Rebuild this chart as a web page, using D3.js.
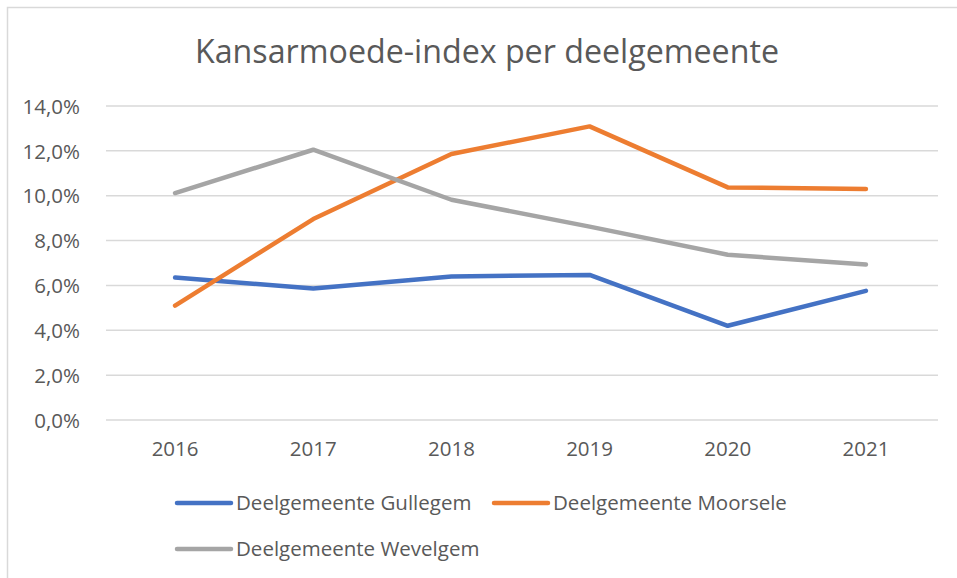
<!DOCTYPE html>
<html>
<head>
<meta charset="utf-8">
<script src="https://cdn.jsdelivr.net/npm/d3@7"></script>
<style>
  body { margin: 0; background: #fff; }
  text { font-family: "Open Sans", sans-serif; fill: #595959; }
</style>
</head>
<body>
<div id="chart"></div>
<script>
var years = ["2016", "2017", "2018", "2019", "2020", "2021"];
var gullegem = [6.35, 5.86, 6.40, 6.47, 4.20, 5.76];
var moorsele = [5.10, 8.96, 11.86, 13.09, 10.37, 10.30];
var wevelgem = [10.12, 12.05, 9.82, 8.62, 7.37, 6.93];
var yTicks = [0, 2, 4, 6, 8, 10, 12, 14];
var seriesNames = ["Deelgemeente Gullegem", "Deelgemeente Moorsele", "Deelgemeente Wevelgem"];
var colors = ["#4472C4", "#ED7D31", "#A5A5A5"];

var margin = {top: 106, right: 22, bottom: 158, left: 106},
    width = 957 - margin.left - margin.right,
    height = 578 - margin.top - margin.bottom;

var root = d3.select("#chart")
  .append("svg")
    .attr("width", 957)
    .attr("height", 578);

// chart frame
root.append("rect")
  .attr("x", 7.5)
  .attr("y", 7.5)
  .attr("width", 980)
  .attr("height", 600)
  .attr("fill", "none")
  .attr("stroke", "#d9d9d9")
  .attr("stroke-width", 1.5);

root.append("text")
  .attr("x", 487)
  .attr("y", 63)
  .attr("text-anchor", "middle")
  .style("font-size", "32.2px")
  .text("Kansarmoede-index per deelgemeente");

var svg = root.append("g")
  .attr("transform", "translate(" + margin.left + "," + margin.top + ")");

var x = d3.scaleBand()
  .domain(years)
  .range([0, 829]);

var y = d3.scaleLinear()
  .domain([0, 14])
  .range([height, 0]);

// gridlines
svg.append("g")
  .selectAll("line")
  .data(yTicks)
  .enter()
  .append("line")
    .attr("x1", 0)
    .attr("x2", 832)
    .attr("y1", function(d) { return y(d); })
    .attr("y2", function(d) { return y(d); })
    .attr("stroke", "#d9d9d9")
    .attr("stroke-width", 1.5);

var yAxis = svg.append("g")
  .attr("transform", "translate(-23,0)")
  .call(d3.axisLeft(y).tickValues(yTicks).tickSize(0)
    .tickFormat(function(d) { return d.toFixed(1).replace(".", ",") + "%"; }));
yAxis.select(".domain").remove();
yAxis.selectAll("text")
  .attr("dy", "0.35em")
  .style("font-size", "20.5px")
  .style("fill", "#595959");

var xAxis = svg.append("g")
  .attr("transform", "translate(0," + height + ")")
  .call(d3.axisBottom(x).tickSize(0));
xAxis.select(".domain").remove();
xAxis.selectAll("text")
  .attr("y", 21)
  .style("font-size", "20.5px")
  .style("fill", "#595959");

var line = d3.line()
  .x(function(d, i) { return x(years[i]) + x.bandwidth() / 2; })
  .y(function(d) { return y(d); });

[gullegem, moorsele, wevelgem].forEach(function(values, i) {
  svg.append("path")
    .datum(values)
    .attr("d", line)
    .attr("fill", "none")
    .attr("stroke", colors[i])
    .attr("stroke-width", 4.5)
    .attr("stroke-linecap", "round")
    .attr("stroke-linejoin", "round");
});

// legend
var legendPos = [[177, 503], [494, 503], [177, 549]];
var legend = root.append("g");
seriesNames.forEach(function(name, i) {
  var p = legendPos[i];
  legend.append("line")
    .attr("x1", p[0])
    .attr("x2", p[0] + 54)
    .attr("y1", p[1])
    .attr("y2", p[1])
    .attr("stroke", colors[i])
    .attr("stroke-width", 4.5)
    .attr("stroke-linecap", "round");
  legend.append("text")
    .attr("x", p[0] + 59)
    .attr("y", p[1])
    .attr("dy", "0.35em")
    .style("font-size", "20.5px")
    .text(name);
});
</script>
</body>
</html>
